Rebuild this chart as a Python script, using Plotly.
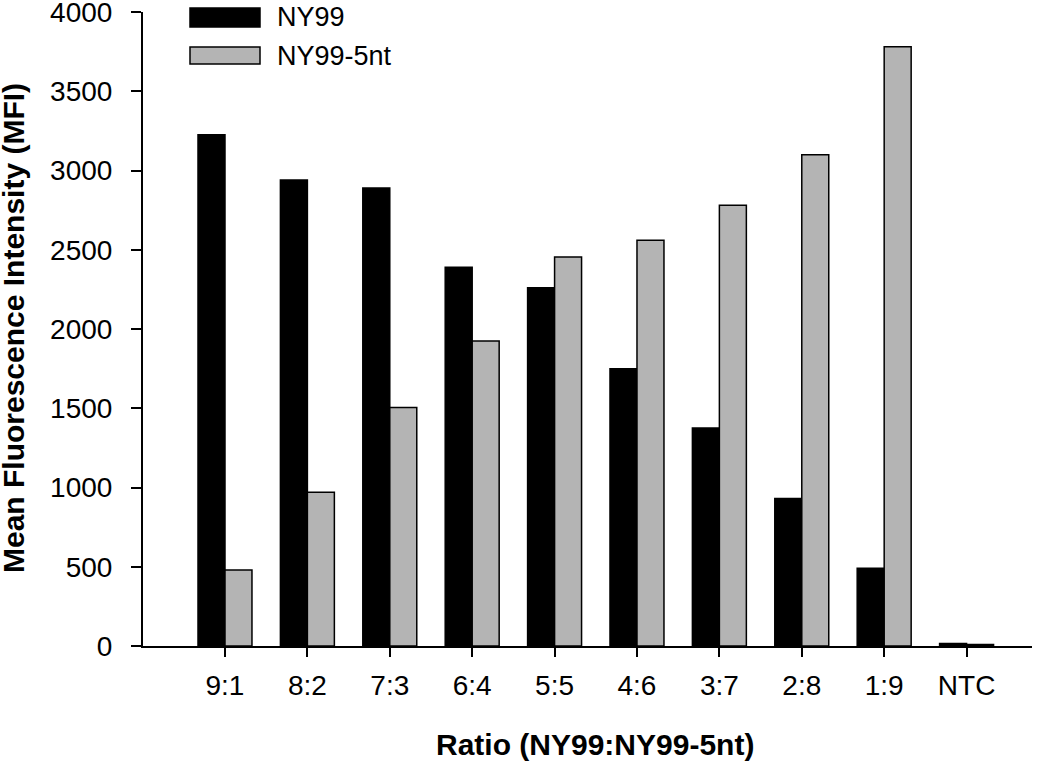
import plotly.graph_objects as go

categories = ["9:1", "8:2", "7:3", "6:4", "5:5", "4:6", "3:7", "2:8", "1:9", "NTC"]
ny99 = [3225, 2940, 2890, 2390, 2260, 1750, 1375, 930, 490, 15]
ny99_5nt = [480, 970, 1505, 1925, 2455, 2560, 2780, 3100, 3780, 10]
y_ticks = [0, 500, 1000, 1500, 2000, 2500, 3000, 3500, 4000]
series_names = ["NY99", "NY99-5nt"]
series_colors = ["#000000", "#b4b4b4"]

W, H = 1050, 761
L, R, T, B = 143, 18, 12, 115
PW, PH = W - L - R, H - T - B


def px_x(px):
    return (px - L) / PW


def px_y(py):
    return (H - B - py) / PH


fig = go.Figure()
for name, vals, col in zip(series_names, [ny99, ny99_5nt], series_colors):
    fig.add_trace(go.Bar(x=categories, y=vals, name=name,
                         marker=dict(color=col, line=dict(color="#000000", width=1.5))))

font_family = "Liberation Sans, Arial, sans-serif"

# manual legend with wide swatches
rows = [(8, 27), (47, 64)]
for (y0, y1), name, col in zip(rows, series_names, series_colors):
    fig.add_shape(type="rect", xref="paper", yref="paper",
                  x0=px_x(190), x1=px_x(260), y0=px_y(y1), y1=px_y(y0),
                  fillcolor=col, line=dict(color="black", width=1.5))
    fig.add_annotation(xref="paper", yref="paper", x=px_x(275), y=px_y((y0 + y1) / 2),
                       xanchor="left", yanchor="middle", text=name, showarrow=False,
                       font=dict(size=27, family=font_family, color="black"))

# axis titles
fig.add_annotation(xref="paper", yref="paper", x=px_x(595), y=px_y(744),
                   xanchor="center", yanchor="middle", showarrow=False,
                   text="<b>Ratio (NY99:NY99-5nt)</b>",
                   font=dict(size=30, family=font_family, color="black"))
fig.add_annotation(xref="paper", yref="paper", x=px_x(13), y=px_y(328),
                   xanchor="center", yanchor="middle", showarrow=False, textangle=-90,
                   text="<b>Mean Fluorescence Intensity (MFI)</b>",
                   font=dict(size=30, family=font_family, color="black"))

fig.update_layout(
    width=W, height=H,
    barmode="group", bargap=0.345, bargroupgap=0,
    plot_bgcolor="white", paper_bgcolor="white",
    margin=dict(l=L, r=R, t=T, b=B, autoexpand=False),
    font=dict(family=font_family, size=28, color="black"),
    showlegend=False,
    xaxis=dict(
        type="category", range=[-0.995, 9.794], automargin=False,
        showline=True, linecolor="black", linewidth=2,
        ticks="outside", ticklen=9, tickwidth=2, tickcolor="black",
        showgrid=False, zeroline=False, ticklabeloverflow="allow",
        tickfont=dict(size=28), ticklabelstandoff=4,
    ),
    yaxis=dict(
        range=[0, 4000], tickvals=y_ticks, automargin=False,
        showline=True, linecolor="black", linewidth=2,
        ticks="outside", ticklen=10, tickwidth=2, tickcolor="black",
        showgrid=False, zeroline=False, ticklabeloverflow="allow",
        tickfont=dict(size=28), ticklabelstandoff=13,
    ),
)

fig.write_html("out.html", config={"displayModeBar": False},
               post_script="document.body.style.margin='0';document.body.style.overflow='hidden';")
